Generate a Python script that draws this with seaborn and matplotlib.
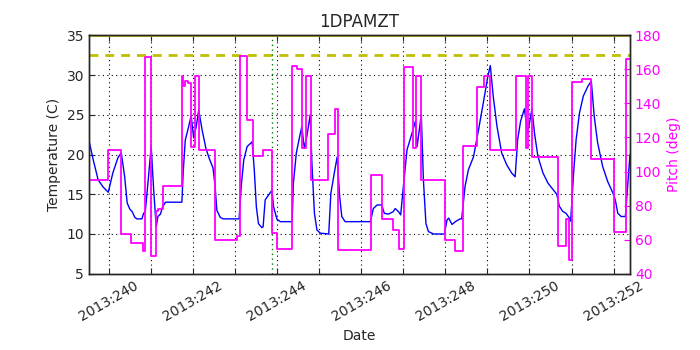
import matplotlib
matplotlib.use("Agg")
import matplotlib.pyplot as plt
from matplotlib.ticker import MultipleLocator, FuncFormatter
import seaborn as sns

# temperature (day of year 2013, deg C)
temp_day = [239.53, 239.63, 239.75, 239.87, 239.99, 240.10, 240.22, 240.30, 240.38, 240.44,
            240.50, 240.56, 240.62, 240.67, 240.79, 240.83, 240.87, 240.94, 241.01, 241.07,
            241.13, 241.17, 241.23, 241.28, 241.35, 241.74, 241.77, 241.82, 241.90, 241.96,
            242.02, 242.08, 242.14, 242.22, 242.31, 242.39, 242.48, 242.53, 242.57, 242.65,
            242.72, 243.10, 243.15, 243.21, 243.29, 243.41, 243.46, 243.51, 243.56, 243.64,
            243.67, 243.72, 243.80, 243.88, 243.92, 244.00, 244.08, 244.36, 244.39, 244.46,
            244.54, 244.59, 244.65, 244.71, 244.79, 244.83, 244.89, 244.95, 245.03, 245.23,
            245.28, 245.36, 245.43, 245.49, 245.54, 245.62, 246.22, 246.29, 246.38, 246.49,
            246.55, 246.65, 246.76, 246.81, 246.89, 246.94, 246.99, 247.09, 247.21, 247.29,
            247.33, 247.43, 247.48, 247.54, 247.60, 247.72, 247.98, 248.04, 248.08, 248.16,
            248.24, 248.35, 248.39, 248.47, 248.55, 248.67, 248.79, 248.91, 249.01, 249.07,
            249.14, 249.23, 249.34, 249.46, 249.58, 249.66, 249.72, 249.79, 249.88, 249.96,
            250.06, 250.12, 250.20, 250.32, 250.44, 250.56, 250.65, 250.71, 250.79, 250.87,
            250.95, 250.98, 251.05, 251.11, 251.19, 251.28, 251.39, 251.47, 251.54, 251.62,
            251.74, 251.86, 251.98, 252.04, 252.10, 252.18, 252.28, 252.34, 252.39]
temp_c = [21.8, 19.4, 16.8, 15.9, 15.25, 17.7, 19.6, 20.2, 17.2, 13.9,
          13.15, 12.8, 12.1, 11.9, 11.9, 12.6, 12.8, 16.8, 21.0, 15.5,
          10.9, 12.2, 12.5, 13.4, 14.0, 14.0, 17.7, 21.8, 23.5, 24.9,
          22.1, 23.5, 25.6, 23.1, 20.8, 19.5, 18.3, 16.0, 13.0, 12.1,
          11.9, 11.9, 16.0, 19.3, 21.0, 21.6, 18.1, 13.4, 11.3, 10.8,
          10.9, 14.3, 14.9, 15.5, 13.4, 11.85, 11.55, 11.55, 16.4, 20.2,
          22.3, 23.5, 20.8, 22.3, 25.0, 18.9, 12.6, 10.5, 10.1, 10.0,
          15.1, 17.6, 19.7, 14.7, 12.2, 11.55, 11.55, 13.2, 13.65, 13.65,
          12.6, 12.5, 12.8, 13.2, 12.8, 12.4, 15.2, 20.6, 22.7, 24.2,
          21.0, 25.0, 16.8, 11.3, 10.3, 10.0, 10.0, 11.75, 12.0, 11.2,
          11.55, 11.9, 11.9, 16.0, 18.1, 19.7, 23.1, 26.7, 29.8, 31.2,
          27.3, 23.5, 20.2, 18.7, 17.65, 17.2, 21.9, 24.2, 25.75, 22.7,
          25.75, 22.7, 19.8, 17.7, 16.4, 15.6, 15.0, 13.5, 12.85, 12.6,
          12.0, 11.6, 17.7, 21.9, 25.25, 27.35, 28.6, 29.25, 24.8, 21.5,
          18.5, 16.6, 15.2, 14.3, 12.6, 12.2, 12.2, 16.4, 20.0]

# pitch steps (start day, deg)
pitch_day = [239.53, 239.99, 240.30, 240.54, 240.81, 240.87, 241.01, 241.13, 241.17, 241.28,
             241.74, 241.77, 241.81, 241.89, 241.95, 242.04, 242.14, 242.52, 243.05, 243.13,
             243.28, 243.42, 243.66, 243.89, 243.99, 244.36, 244.47, 244.60, 244.68, 244.80,
             245.22, 245.37, 245.44, 246.24, 246.50, 246.76, 246.89, 247.01, 247.24, 247.31,
             247.43, 247.99, 248.22, 248.43, 248.76, 248.92, 249.07, 249.67, 249.91, 249.96,
             250.07, 250.67, 250.87, 250.95, 251.01, 251.26, 251.46, 252.02, 252.30, 252.39]
pitch_deg = [95.1, 112.7, 63.3, 58.2, 53.5, 167.2, 50.5, 77.0, 78.0, 91.7,
             156.0, 150.0, 153.1, 152.1, 114.5, 156.0, 112.9, 60.0, 62.0, 168.0,
             130.2, 109.1, 112.6, 64.0, 54.7, 162.1, 160.5, 113.8, 155.9, 94.9,
             122.1, 136.7, 53.8, 97.8, 72.3, 65.5, 54.5, 161.5, 113.8, 156.1,
             94.8, 59.7, 53.3, 115.0, 149.9, 155.9, 112.5, 156.4, 114.0, 156.4,
             108.7, 56.0, 72.0, 48.0, 152.5, 154.5, 107.1, 64.5, 166.1, 166.1]

planning_limit = 32.5
top_limit = 35.0
marker_day = 243.89

sns.set_style("ticks")
plt.rcParams["font.family"] = ["DejaVu Sans"]
plt.rcParams["xtick.direction"] = "in"
plt.rcParams["ytick.direction"] = "in"
plt.rcParams["xtick.top"] = True
plt.rcParams["axes.linewidth"] = 1.0

fig, ax = plt.subplots(figsize=(7, 3.5), dpi=100)
fig.subplots_adjust(left=0.127, right=0.900, top=0.899, bottom=0.218)

sns.lineplot(x=temp_day, y=temp_c, ax=ax, color="#0000ff", lw=1.0,
             estimator=None, sort=False)
ax.axhline(planning_limit, color="#bfbf00", lw=2, dashes=(3.2, 2.5))
ax.axhline(top_limit, color="#bfbf00", lw=2)
ax.axvline(marker_day, color="#008000", lw=1, linestyle=(0, (1, 2.5)))

ax.set_xlim(239.53, 252.39)
ax.set_ylim(5, 35)
ax.xaxis.set_major_locator(MultipleLocator(1))
ax.xaxis.set_major_formatter(FuncFormatter(
    lambda v, p: "2013:%d" % round(v) if round(v) % 2 == 0 else ""))
ax.yaxis.set_major_locator(MultipleLocator(5))
ax.grid(True, color="k", lw=0.8, linestyle=(0, (1, 3)))
ax.tick_params(axis="x", labelsize=10, rotation=30, length=4, width=0.8)
ax.tick_params(axis="y", labelsize=10, length=4, width=0.8)
ax.set_xlabel("Date", fontsize=10)
ax.set_ylabel("Temperature (C)", fontsize=10)
ax.set_title("1DPAMZT", fontsize=12)

ax2 = ax.twinx()
sns.lineplot(x=pitch_day, y=pitch_deg, ax=ax2, color="#ff00ff", lw=1.3,
             drawstyle="steps-post", estimator=None, sort=False)
ax2.set_ylim(40, 180)
ax2.yaxis.set_major_locator(MultipleLocator(20))
ax2.tick_params(axis="y", labelsize=10, colors="#ff00ff", length=4, width=0.8, direction="in")
ax2.set_ylabel("Pitch (deg)", fontsize=10, color="#ff00ff")
ax2.grid(False)

fig.savefig("out.png", dpi=100)
